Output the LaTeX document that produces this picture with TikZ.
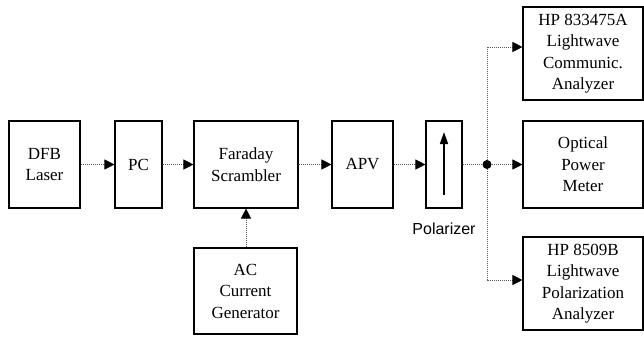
\documentclass[tikz,border=0pt]{standalone}
\usepackage{fontspec}
\setmainfont{Liberation Serif}
\newfontfamily\boxfont{Liberation Serif}
\newfontfamily\labelfont{Liberation Sans}
\usetikzlibrary{arrows.meta}
\begin{document}
\begin{tikzpicture}[x=1pt,y=-1pt,
  blk/.style={draw,line width=1.1pt,inner sep=0pt,align=center,
    font=\boxfont\fontsize{17}{21.5}\selectfont},
  link/.style={draw=black!65,line width=0.7pt,dash pattern=on 1pt off 1pt,
    -{Triangle[length=10pt,width=10pt,color=black,fill=black]}},
  feed/.style={draw=black!65,line width=0.7pt,dash pattern=on 1pt off 1pt}]
\useasboundingbox (0,0) rectangle (644,337);

% main optical path
\node[blk,minimum width=71pt,minimum height=87pt] (dfb) at (44.5,164.5) {DFB\\Laser};
\node[blk,minimum width=47pt,minimum height=87pt] (pc) at (138.5,164.5) {PC};
\node[blk,minimum width=104pt,minimum height=87pt] (far) at (246,164.5) {Faraday\\Scrambler};
\node[blk,minimum width=61pt,minimum height=87pt] (apv) at (362.5,164.5) {APV};
\node[blk,minimum width=36pt,minimum height=87pt] (pol) at (444,164.5) {};
\node[font=\labelfont\fontsize{16}{18}\selectfont] (pollab) at (444,229) {Polarizer};

% drive current source
\node[blk,minimum width=103pt,minimum height=86pt] (ac) at (245.5,291) {AC\\Current\\Generator};

% detection instruments
\node[blk,minimum width=120pt,minimum height=93pt] (hpa) at (583,53.5) {HP 833475A\\Lightwave\\Communic.\\Analyzer};
\node[blk,minimum width=120pt,minimum height=87pt] (opm) at (583,164.5) {Optical\\Power\\Meter};
\node[blk,minimum width=120pt,minimum height=93pt] (hpb) at (583,283.5) {HP 8509B\\Lightwave\\Polarization\\Analyzer};

% polarizer axis
\coordinate (axlo) at (444,195);
\coordinate (axhi) at (444,132);
\draw[line width=1.6pt,-{Triangle[length=12pt,width=8pt]}] (axlo) -- (axhi);

% splitting point
\node[circle,fill=black,inner sep=0pt,minimum size=9pt] (split) at (487,164.5) {};
\coordinate (jt) at (487,47);
\coordinate (jb) at (487,280);

\draw[link] (dfb) -- (pc);
\draw[link] (pc) -- (far);
\draw[link] (far) -- (apv);
\draw[link] (apv) -- (pol);
\draw[feed] (pol) -- (split);
\draw[link] (split) -- (opm);
\draw[link] (split) -- (jt) -- (hpa.west |- jt);
\draw[link] (split) -- (jb) -- (hpb.west |- jb);
\draw[link] (ac.north -| far.south) -- (far.south);
\end{tikzpicture}
\end{document}
